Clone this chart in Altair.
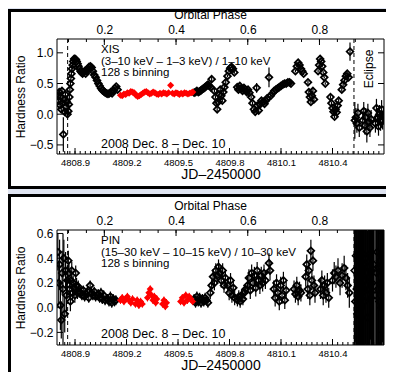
import altair as alt
import pandas as pd

# ---------------- data ----------------
# (JD-2450000, hardness ratio, error)
xis_black = [
    (4808.800, 0.30, 0.04), (4808.804, 0.22, 0.04), (4808.808, 0.36, 0.04), (4808.812, 0.15, 0.05),
    (4808.816, 0.28, 0.04), (4808.820, 0.08, 0.05), (4808.824, 0.38, 0.04), (4808.828, 0.18, 0.05),
    (4808.832, -0.33, 0.28), (4808.836, 0.24, 0.04), (4808.840, 0.04, 0.05), (4808.844, 0.32, 0.04),
    (4808.848, 0.12, 0.05), (4808.852, 0.20, 0.05), (4808.856, 0.00, 0.06),
    (4808.861, 0.05, 0.05), (4808.864, 0.16, 0.05), (4808.867, 0.28, 0.04), (4808.870, 0.40, 0.04),
    (4808.873, 0.50, 0.04), (4808.876, 0.58, 0.03), (4808.879, 0.66, 0.03), (4808.882, 0.74, 0.03),
    (4808.886, 0.80, 0.03), (4808.890, 0.86, 0.02), (4808.895, 0.90, 0.02), (4808.900, 0.90, 0.02),
    (4808.905, 0.89, 0.02), (4808.910, 0.86, 0.02), (4808.915, 0.82, 0.02), (4808.920, 0.78, 0.02),
    (4808.926, 0.74, 0.02), (4808.932, 0.70, 0.02), (4808.938, 0.68, 0.02), (4808.944, 0.66, 0.02),
    (4808.950, 0.68, 0.02), (4808.956, 0.70, 0.02), (4808.962, 0.66, 0.02), (4808.968, 0.70, 0.02),
    (4808.975, 0.74, 0.02), (4808.982, 0.77, 0.02), (4808.990, 0.78, 0.02), (4808.997, 0.76, 0.02),
    (4809.004, 0.70, 0.02), (4809.012, 0.64, 0.02), (4809.020, 0.60, 0.02), (4809.028, 0.55, 0.02),
    (4809.036, 0.50, 0.02), (4809.044, 0.46, 0.02), (4809.052, 0.42, 0.02), (4809.060, 0.39, 0.02),
    (4809.068, 0.37, 0.02), (4809.076, 0.35, 0.02), (4809.084, 0.34, 0.02), (4809.092, 0.33, 0.02),
    (4809.100, 0.34, 0.02), (4809.108, 0.36, 0.02), (4809.116, 0.34, 0.02), (4809.124, 0.38, 0.02),
    (4809.132, 0.42, 0.02), (4809.140, 0.45, 0.02), (4809.148, 0.40, 0.02),
    (4809.594, 0.35, 0.02), (4809.602, 0.36, 0.02), (4809.610, 0.38, 0.02), (4809.618, 0.36, 0.02),
    (4809.626, 0.37, 0.02), (4809.634, 0.39, 0.02), (4809.642, 0.41, 0.02), (4809.650, 0.42, 0.02),
    (4809.658, 0.44, 0.02), (4809.666, 0.46, 0.02), (4809.674, 0.48, 0.02), (4809.682, 0.46, 0.02),
    (4809.690, 0.44, 0.02), (4809.696, 0.57, 0.04),
    (4809.712, 0.38, 0.03), (4809.718, 0.28, 0.03), (4809.724, 0.18, 0.03), (4809.728, 0.08, 0.04),
    (4809.734, 0.20, 0.03), (4809.740, 0.32, 0.03), (4809.746, 0.40, 0.03), (4809.752, 0.30, 0.03),
    (4809.758, 0.22, 0.03), (4809.764, 0.36, 0.03), (4809.770, 0.44, 0.03), (4809.778, 0.52, 0.08),
    (4809.788, 0.62, 0.02), (4809.796, 0.70, 0.02), (4809.804, 0.75, 0.02), (4809.812, 0.77, 0.02),
    (4809.820, 0.74, 0.02), (4809.828, 0.68, 0.02),
    (4809.845, 0.44, 0.03), (4809.852, 0.40, 0.03), (4809.860, 0.46, 0.03), (4809.868, 0.42, 0.03),
    (4809.876, 0.38, 0.03), (4809.884, 0.43, 0.03), (4809.892, 0.40, 0.03), (4809.900, 0.36, 0.03),
    (4809.908, 0.40, 0.03), (4809.916, 0.35, 0.03),
    (4809.926, 0.28, 0.03), (4809.934, 0.18, 0.03), (4809.942, 0.08, 0.03), (4809.950, 0.04, 0.03),
    (4809.958, 0.43, 0.08), (4809.962, 0.14, 0.03), (4809.970, 0.06, 0.03), (4809.978, 0.16, 0.03),
    (4809.986, 0.22, 0.03), (4809.996, 0.20, 0.03), (4810.004, 0.17, 0.03), (4810.012, 0.22, 0.03),
    (4810.020, 0.26, 0.03), (4810.030, 0.60, 0.16),
    (4810.040, 0.30, 0.02), (4810.050, 0.34, 0.02), (4810.060, 0.38, 0.02), (4810.070, 0.40, 0.02),
    (4810.080, 0.42, 0.02), (4810.090, 0.44, 0.02), (4810.100, 0.46, 0.02), (4810.110, 0.48, 0.02),
    (4810.120, 0.50, 0.02), (4810.130, 0.50, 0.02), (4810.140, 0.52, 0.02), (4810.150, 0.52, 0.02),
    (4810.158, 0.50, 0.02),
    (4810.184, 0.70, 0.02), (4810.192, 0.78, 0.02), (4810.200, 0.84, 0.02), (4810.208, 0.80, 0.02),
    (4810.216, 0.74, 0.02), (4810.224, 0.70, 0.02), (4810.232, 0.66, 0.02),
    (4810.257, 0.52, 0.03), (4810.262, 0.36, 0.03), (4810.268, 0.28, 0.03), (4810.274, 0.20, 0.03),
    (4810.280, 0.30, 0.03), (4810.286, 0.38, 0.03), (4810.292, 0.24, 0.03),
    (4810.316, 0.70, 0.02), (4810.322, 0.80, 0.02), (4810.328, 0.90, 0.02), (4810.334, 0.86, 0.02),
    (4810.340, 0.78, 0.02), (4810.346, 0.68, 0.02), (4810.352, 0.60, 0.02), (4810.358, 0.50, 0.02),
    (4810.388, 0.28, 0.03), (4810.394, 0.18, 0.03), (4810.400, 0.10, 0.03), (4810.406, 0.04, 0.03),
    (4810.412, -0.04, 0.03), (4810.418, 0.08, 0.03), (4810.424, 0.03, 0.03), (4810.430, 0.14, 0.03),
    (4810.436, 0.22, 0.03),
    (4810.454, 0.40, 0.03), (4810.462, 0.48, 0.03), (4810.470, 0.55, 0.03), (4810.478, 0.62, 0.03),
    (4810.486, 0.66, 0.03), (4810.494, 0.60, 0.03), (4810.502, 1.02, 0.15),
    (4810.530, -0.10, 0.30), (4810.536, -0.05, 0.15), (4810.542, -0.15, 0.15), (4810.548, 0.02, 0.15),
    (4810.556, -0.22, 0.15), (4810.576, -0.10, 0.15), (4810.582, 0.05, 0.15), (4810.588, -0.18, 0.15),
    (4810.594, -0.05, 0.15), (4810.600, -0.28, 0.18), (4810.606, 0.02, 0.15), (4810.612, -0.12, 0.15),
    (4810.618, -0.22, 0.15), (4810.625, -0.08, 0.15), (4810.650, -0.15, 0.15), (4810.656, 0.10, 0.15),
    (4810.662, -0.05, 0.15), (4810.668, -0.20, 0.15), (4810.674, 0.00, 0.15), (4810.680, -0.12, 0.15),
    (4810.686, 0.08, 0.15), (4810.692, -0.10, 0.15), (4810.698, -0.02, 0.15),
]

xis_red = [
    (4809.165, 0.31, 0.02), (4809.175, 0.30, 0.02), (4809.185, 0.33, 0.02), (4809.195, 0.32, 0.02),
    (4809.205, 0.35, 0.02), (4809.215, 0.34, 0.02), (4809.225, 0.37, 0.02), (4809.235, 0.36, 0.02),
    (4809.245, 0.35, 0.02), (4809.255, 0.31, 0.02), (4809.265, 0.29, 0.02), (4809.275, 0.30, 0.02),
    (4809.285, 0.32, 0.02), (4809.295, 0.34, 0.02), (4809.305, 0.36, 0.02), (4809.315, 0.37, 0.02),
    (4809.325, 0.35, 0.02), (4809.335, 0.33, 0.02), (4809.345, 0.34, 0.02), (4809.355, 0.36, 0.02),
    (4809.365, 0.35, 0.02), (4809.375, 0.33, 0.02), (4809.385, 0.32, 0.02), (4809.395, 0.34, 0.02),
    (4809.405, 0.33, 0.02), (4809.415, 0.35, 0.02), (4809.425, 0.34, 0.02), (4809.435, 0.33, 0.02),
    (4809.445, 0.35, 0.02), (4809.457, 0.47, 0.02), (4809.468, 0.34, 0.02), (4809.478, 0.33, 0.02),
    (4809.488, 0.35, 0.02), (4809.498, 0.34, 0.02), (4809.508, 0.32, 0.02), (4809.518, 0.34, 0.02),
    (4809.528, 0.33, 0.02), (4809.538, 0.35, 0.02), (4809.548, 0.34, 0.02), (4809.558, 0.33, 0.02),
    (4809.568, 0.34, 0.02), (4809.578, 0.35, 0.02), (4809.586, 0.36, 0.02),
]

pin_black = [
    (4808.800, 0.45, 0.15), (4808.805, 0.20, 0.18), (4808.810, 0.35, 0.20), (4808.815, 0.02, 0.20),
    (4808.820, -0.10, 0.15), (4808.825, 0.28, 0.18), (4808.830, 0.15, 0.45), (4808.835, 0.40, 0.15),
    (4808.840, -0.05, 0.15), (4808.845, 0.30, 0.15), (4808.850, 0.10, 0.15), (4808.855, 0.22, 0.12),
    (4808.861, 0.38, 0.08), (4808.865, 0.28, 0.08), (4808.869, 0.15, 0.08), (4808.873, 0.05, 0.08),
    (4808.877, 0.22, 0.07), (4808.881, 0.30, 0.07), (4808.885, 0.12, 0.07), (4808.889, 0.20, 0.06),
    (4808.894, 0.16, 0.06), (4808.899, 0.10, 0.06), (4808.904, 0.28, 0.06), (4808.909, 0.18, 0.06),
    (4808.914, 0.12, 0.05), (4808.919, 0.17, 0.05), (4808.924, 0.13, 0.05),
    (4808.932, 0.12, 0.04), (4808.940, 0.10, 0.04), (4808.948, 0.14, 0.04), (4808.956, 0.09, 0.04),
    (4808.964, 0.11, 0.04), (4808.972, 0.13, 0.04), (4808.980, 0.08, 0.04), (4808.988, 0.18, 0.04),
    (4808.996, 0.12, 0.04), (4809.004, 0.10, 0.04), (4809.012, 0.13, 0.04), (4809.020, 0.09, 0.04),
    (4809.035, 0.11, 0.04), (4809.043, 0.08, 0.04), (4809.051, 0.12, 0.04), (4809.059, 0.07, 0.04),
    (4809.067, 0.10, 0.04), (4809.075, 0.06, 0.04),
    (4809.090, 0.07, 0.04), (4809.098, 0.05, 0.04), (4809.106, 0.09, 0.04), (4809.114, 0.04, 0.04),
    (4809.122, 0.07, 0.04), (4809.130, 0.05, 0.04), (4809.138, 0.06, 0.04),
    (4809.594, 0.07, 0.04), (4809.602, 0.04, 0.04), (4809.610, 0.09, 0.04), (4809.618, 0.05, 0.04),
    (4809.626, 0.08, 0.04), (4809.634, 0.04, 0.04), (4809.642, 0.07, 0.04), (4809.650, 0.05, 0.04),
    (4809.658, 0.08, 0.04), (4809.666, 0.06, 0.04), (4809.674, 0.04, 0.04),
    (4809.688, 0.12, 0.05), (4809.696, 0.18, 0.05), (4809.704, 0.25, 0.06), (4809.712, 0.20, 0.06),
    (4809.720, 0.30, 0.06), (4809.728, 0.26, 0.06), (4809.736, 0.33, 0.06), (4809.744, 0.28, 0.06),
    (4809.752, 0.22, 0.06), (4809.760, 0.30, 0.06), (4809.768, 0.18, 0.06), (4809.776, 0.24, 0.06),
    (4809.790, 0.18, 0.06), (4809.798, 0.12, 0.06), (4809.806, 0.22, 0.06), (4809.814, 0.10, 0.06),
    (4809.822, 0.16, 0.06), (4809.830, 0.08, 0.06),
    (4809.846, 0.06, 0.05), (4809.854, 0.09, 0.05), (4809.862, 0.05, 0.05), (4809.870, 0.10, 0.05),
    (4809.878, 0.07, 0.05), (4809.886, 0.12, 0.05), (4809.894, 0.15, 0.05),
    (4809.905, 0.18, 0.07), (4809.913, 0.24, 0.07), (4809.921, 0.14, 0.07), (4809.929, 0.28, 0.07),
    (4809.937, 0.20, 0.07), (4809.945, 0.26, 0.07), (4809.953, 0.16, 0.07), (4809.961, 0.30, 0.07),
    (4809.969, 0.22, 0.07), (4809.977, 0.18, 0.07), (4809.985, 0.26, 0.07), (4809.993, 0.20, 0.07),
    (4810.001, 0.28, 0.07), (4810.009, 0.22, 0.07), (4810.030, 0.36, 0.08), (4810.036, 0.30, 0.08),
    (4810.058, 0.15, 0.07), (4810.066, 0.08, 0.07), (4810.074, 0.20, 0.07), (4810.082, 0.12, 0.07),
    (4810.090, 0.05, 0.07), (4810.098, 0.18, 0.07), (4810.106, 0.10, 0.07), (4810.114, 0.22, 0.07),
    (4810.122, 0.06, 0.07), (4810.130, 0.14, 0.07),
    (4810.176, 0.15, 0.07), (4810.184, 0.11, 0.07), (4810.192, 0.18, 0.07), (4810.200, 0.09, 0.07),
    (4810.208, 0.14, 0.07), (4810.216, 0.12, 0.07),
    (4810.244, 0.25, 0.08), (4810.250, 0.35, 0.08), (4810.256, 0.15, 0.08), (4810.262, 0.30, 0.08),
    (4810.268, 0.10, 0.08), (4810.274, 0.46, 0.09), (4810.280, 0.22, 0.08), (4810.286, 0.38, 0.08),
    (4810.292, 0.18, 0.08), (4810.298, 0.12, 0.08),
    (4810.330, 0.15, 0.08), (4810.338, 0.22, 0.08), (4810.346, 0.10, 0.08), (4810.354, 0.18, 0.08),
    (4810.362, 0.12, 0.08), (4810.370, 0.20, 0.08), (4810.378, 0.08, 0.08),
    (4810.400, 0.22, 0.09), (4810.410, 0.28, 0.09), (4810.420, 0.25, 0.09), (4810.432, 0.30, 0.10),
    (4810.444, 0.20, 0.10), (4810.456, 0.26, 0.10), (4810.468, 0.32, 0.10), (4810.478, 0.24, 0.10),
    (4810.488, 0.18, 0.10), (4810.498, 0.12, 0.12),
]

# PIN points inside the eclipse: error bars span the whole panel
pin_eclipse = [
    (4810.528, 0.30, 0.70), (4810.532, 0.05, 0.70), (4810.536, 0.42, 0.70), (4810.540, 0.15, 0.80),
    (4810.544, -0.05, 0.70), (4810.548, 0.25, 0.70), (4810.552, 0.38, 0.80), (4810.556, 0.10, 0.70),
    (4810.560, 0.20, 0.70), (4810.564, 0.45, 0.80), (4810.568, 0.00, 0.70), (4810.572, 0.30, 0.70),
    (4810.576, 0.12, 0.80), (4810.580, 0.35, 0.70), (4810.584, 0.22, 0.70), (4810.588, 0.05, 0.80),
    (4810.592, 0.40, 0.70), (4810.596, 0.18, 0.70), (4810.600, 0.28, 0.80), (4810.604, -0.08, 0.70),
    (4810.608, 0.33, 0.70), (4810.612, 0.15, 0.80), (4810.616, 0.25, 0.70), (4810.620, 0.44, 0.70),
    (4810.624, 0.08, 0.80), (4810.628, 0.30, 0.70), (4810.632, 0.20, 0.70), (4810.640, 0.35, 0.80),
    (4810.648, 0.10, 0.70), (4810.656, 0.28, 0.70), (4810.660, 0.45, 0.80), (4810.664, 0.15, 0.70),
    (4810.668, 0.32, 0.70), (4810.672, 0.05, 0.80), (4810.676, 0.38, 0.70), (4810.680, 0.20, 0.70),
    (4810.684, 0.00, 0.80), (4810.688, 0.30, 0.70), (4810.692, 0.42, 0.70), (4810.696, 0.12, 0.80),
]

pin_red = [
    (4809.165, 0.06, 0.03), (4809.175, 0.08, 0.03), (4809.185, 0.05, 0.03), (4809.195, 0.07, 0.03),
    (4809.205, 0.09, 0.03), (4809.215, 0.06, 0.03), (4809.225, 0.04, 0.03), (4809.235, 0.07, 0.03),
    (4809.252, 0.03, 0.03), (4809.262, 0.06, 0.03), (4809.272, 0.02, 0.03), (4809.282, 0.05, 0.03),
    (4809.292, 0.03, 0.03),
    (4809.322, 0.08, 0.03), (4809.330, 0.12, 0.03), (4809.338, 0.15, 0.03), (4809.346, 0.10, 0.03),
    (4809.354, 0.06, 0.03), (4809.362, 0.09, 0.03), (4809.370, 0.04, 0.03), (4809.376, 0.07, 0.03),
    (4809.410, 0.03, 0.03), (4809.418, 0.06, 0.03), (4809.426, 0.01, 0.03), (4809.433, 0.04, 0.03),
    (4809.515, 0.05, 0.03), (4809.525, 0.08, 0.03), (4809.535, 0.04, 0.03), (4809.545, 0.10, 0.03),
    (4809.555, 0.06, 0.03), (4809.565, 0.09, 0.03), (4809.575, 0.07, 0.03), (4809.585, 0.05, 0.03),
]

eclipse_edges = [4808.857, 4810.525]
jd_major = [4808.9, 4809.2, 4809.5, 4809.8, 4810.1, 4810.4]
phase_major = [0.2, 0.4, 0.6, 0.8]
xis_yticks = [-0.5, 0.0, 0.5, 1.0]
pin_yticks = [-0.2, 0.0, 0.2, 0.4, 0.6]
xis_text = ["XIS", "(3–10 keV – 1–3 keV) / 1–10 keV", "128 s binning"]
pin_text = ["PIN", "(15–30 keV – 10–15 keV) / 10–30 keV", "128 s binning"]
date_text = "2008 Dec. 8 – Dec. 10"

JD_DOMAIN = [4808.795, 4810.700]
PH_DOMAIN = [0.068, 0.980]
XIS_DOMAIN = [-0.648, 1.225]
PIN_DOMAIN = [-0.302, 0.628]
jd_minor = [round(4808.81 + 0.03 * k, 2) for k in range(63)]
phase_minor = [round(0.05 * k, 2) for k in range(2, 20)]

W, H = 327, 115
FONT = "Liberation Sans"


def to_df(rows):
    df = pd.DataFrame(rows, columns=["jd", "hr", "err"])
    df["lo"] = df["hr"] - df["err"]
    df["hi"] = df["hr"] + df["err"]
    return df


def one():
    return alt.Data(values=[{"k": 1}])


def panel(black, red, heavy, ydom, yticks, lines, box_top, box_bot, bottom_border, date_y, eclipse_label):
    xsc = alt.Scale(domain=JD_DOMAIN, nice=False, zero=False)
    xax = alt.Axis(title="JD–2450000", values=jd_major, format=".1f", ticks=False, domain=False,
                   grid=False, labelFontSize=9.5, labelPadding=3, titleFontSize=14, titlePadding=1,
                   zindex=2, labelColor="black", titleColor="black", titleFontWeight="normal",
                   labelFont=FONT, titleFont=FONT, labelFlush=False, labelOverlap=False)
    ysc = alt.Scale(domain=ydom, nice=False, zero=False)
    yax = alt.Axis(title="Hardness Ratio", values=yticks, format=".1f", ticks=False, domain=False,
                   grid=False, labelFontSize=12, labelPadding=4, titleFontSize=12, titlePadding=2,
                   zindex=2, labelColor="black", titleColor="black", titleFontWeight="normal",
                   labelFont=FONT, titleFont=FONT, labelFlush=False, labelOverlap=False)

    def X(f):
        return alt.X(f"{f}:Q", scale=xsc, axis=xax)

    def Y(f):
        return alt.Y(f"{f}:Q", scale=ysc, axis=yax)

    bdf = to_df(black)
    rdf = to_df(red)

    box_outer = alt.Chart(one()).mark_rect(color="black").encode(
        x=alt.value(-49), x2=alt.value(W + 2), y=alt.value(box_top), y2=alt.value(box_bot))
    box_inner = alt.Chart(one()).mark_rect(color="white").encode(
        x=alt.value(-46), x2=alt.value(W + 2), y=alt.value(box_top + 3),
        y2=alt.value(box_bot - 3 if bottom_border else box_bot))

    err_b = alt.Chart(bdf).mark_rule(color="black", strokeWidth=1.2, clip=True).encode(
        x=X("jd"), y=Y("lo"), y2="hi")
    pts_b = alt.Chart(bdf).mark_point(shape="diamond", filled=False, color="black", size=45,
                                      strokeWidth=1.8, opacity=1, clip=True).encode(x=X("jd"), y=Y("hr"))
    err_r = alt.Chart(rdf).mark_rule(color="#ff0000", strokeWidth=1, clip=True).encode(
        x=X("jd"), y=Y("lo"), y2="hi")
    pts_r = alt.Chart(rdf).mark_point(shape="diamond", filled=True, color="#ff0000", size=50,
                                      opacity=1, clip=True).encode(x=X("jd"), y=Y("hr"))
    edges = alt.Chart(pd.DataFrame({"jd": eclipse_edges})).mark_rule(
        color="black", strokeDash=[4, 3], strokeWidth=1).encode(x=X("jd"))
    frame = alt.Chart(one()).mark_rect(fillOpacity=0, stroke="black", strokeWidth=1).encode(
        x=alt.value(0), x2=alt.value(W), y=alt.value(0), y2=alt.value(H))
    xt_major = alt.Chart(pd.DataFrame({"t": jd_major})).mark_rule(color="black").encode(
        x=X("t"), y=alt.value(H), y2=alt.value(H - 6))
    xt_minor = alt.Chart(pd.DataFrame({"t": jd_minor})).mark_rule(color="black").encode(
        x=X("t"), y=alt.value(H), y2=alt.value(H - 3))
    yt_left = alt.Chart(pd.DataFrame({"v": yticks})).mark_rule(color="black").encode(
        y=Y("v"), x=alt.value(0), x2=alt.value(6))
    yt_right = alt.Chart(pd.DataFrame({"v": yticks})).mark_rule(color="black").encode(
        y=Y("v"), x=alt.value(W - 6), x2=alt.value(W))
    label = alt.Chart(one()).mark_text(text=lines, align="left", baseline="alphabetic", fontSize=11.5,
                                       lineHeight=11.5, font=FONT, color="black").encode(
        x=alt.value(44), y=alt.value(14))
    date = alt.Chart(one()).mark_text(text=date_text, align="left", baseline="alphabetic", fontSize=12.5,
                                      font=FONT, color="black").encode(x=alt.value(44), y=alt.value(date_y))
    layers = [box_outer, box_inner, err_b, pts_b, err_r, pts_r]
    if heavy:
        hdf = to_df(heavy)
        layers.append(alt.Chart(hdf).mark_rule(color="black", strokeWidth=1.4, clip=True).encode(
            x=X("jd"), y=Y("lo"), y2="hi"))
        layers.append(alt.Chart(hdf).mark_point(shape="diamond", filled=False, color="black", size=45,
                                                strokeWidth=1.6, opacity=1, clip=True).encode(
            x=X("jd"), y=Y("hr")))
    layers += [edges, frame, xt_major, xt_minor, yt_left, yt_right, label, date]
    if eclipse_label:
        ecl = alt.Chart(one()).mark_text(text="Eclipse", angle=270, align="center", baseline="middle",
                                         fontSize=12, font=FONT, color="black").encode(
            x=alt.value(312), y=alt.value(30))
        layers.append(ecl)
    inner = alt.layer(*layers)

    psc = alt.Scale(domain=PH_DOMAIN, nice=False, zero=False)
    pax = alt.Axis(orient="top", title="Orbital Phase", values=phase_major, format=".1f", ticks=False,
                   domain=False, grid=False, labelFontSize=12, labelPadding=3, titleFontSize=12,
                   titlePadding=2, titleX=153, zindex=2, labelColor="black", titleColor="black",
                   titleFontWeight="normal", labelFont=FONT, titleFont=FONT, labelFlush=False,
                   labelOverlap=False)
    ph_major = alt.Chart(pd.DataFrame({"p": phase_major})).mark_rule(color="black").encode(
        x=alt.X("p:Q", scale=psc, axis=pax), y=alt.value(0), y2=alt.value(6))
    ph_minor = alt.Chart(pd.DataFrame({"p": phase_minor})).mark_rule(color="black").encode(
        x=alt.X("p:Q", scale=psc, axis=pax), y=alt.value(0), y2=alt.value(3))
    phase = alt.layer(ph_major, ph_minor)

    return alt.layer(inner, phase).resolve_scale(x="independent").properties(width=W, height=H)


p1 = panel(xis_black, xis_red, None, XIS_DOMAIN, xis_yticks, xis_text, -30, 150, True, 108.5, True)
p2 = panel(pin_black, pin_red, pin_eclipse, PIN_DOMAIN, pin_yticks, pin_text, -36, 143, False, 107.5, False)

chart = alt.vconcat(p1, p2, spacing=5).properties(
    padding=0, background="#dfe4f1"
).configure(font=FONT).configure_view(stroke=None)

chart.save("out.html", embed_options={"renderer": "svg", "actions": False})
